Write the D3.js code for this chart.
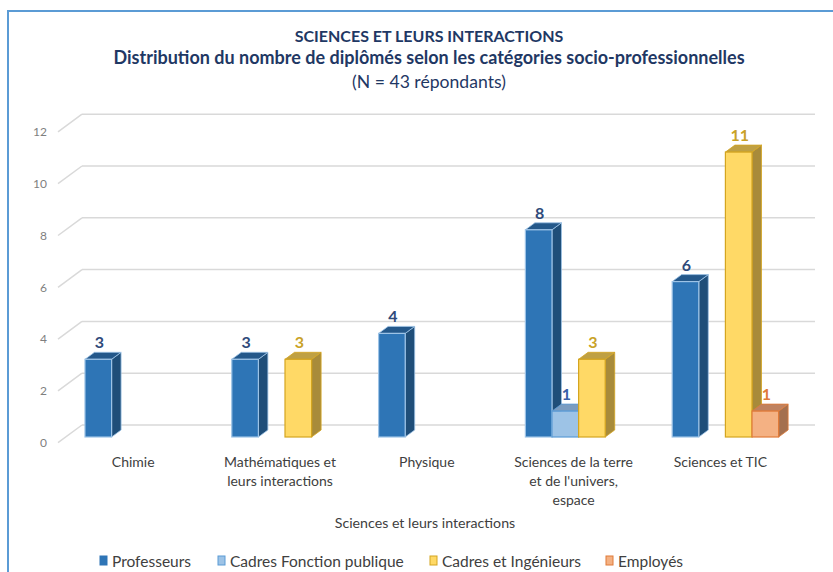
<!DOCTYPE html>
<html>
<head>
<meta charset="utf-8">
<script src="https://cdn.jsdelivr.net/npm/d3@7"></script>
<style>
  body { margin: 0; background: #fff; }
  text { font-family: Lato, "Open Sans", sans-serif; }
</style>
</head>
<body>
<div id="chart"></div>
<script>
// data
const categories = [
  ["Chimie"],
  ["Mathématiques et", "leurs interactions"],
  ["Physique"],
  ["Sciences de la terre", "et de l'univers,", "espace"],
  ["Sciences et TIC"]
]
const seriesNames = ["Professeurs", "Cadres Fonction publique", "Cadres et Ingénieurs", "Employés"]
const professeurs = [3, 3, 4, 8, 6]
const cadresFP = [null, null, null, 1, null]
const cadresIng = [null, 3, null, 3, 11]
const employes = [null, null, null, null, 1]
const yTicks = [0, 2, 4, 6, 8, 10, 12]

const titleLines = [
  "SCIENCES ET LEURS INTERACTIONS",
  "Distribution du nombre de diplômés selon les catégories socio-professionnelles",
  "(N = 43 répondants)"
]
const axisTitle = "Sciences et leurs interactions"

const colors = [
  {front: "#2E75B6", side: "#1F4E79", top: "#24588A", stroke: "#9DC3E6", label: "#2F4A7A"},
  {front: "#9DC3E6", side: "#6E8FB5", top: "#7B9CC0", stroke: "#5B9BD5", label: "#3A62A8"},
  {front: "#FFD966", side: "#A88B3A", top: "#BFA043", stroke: "#D4A520", label: "#C9A227"},
  {front: "#F4B183", side: "#A4704F", top: "#BF8260", stroke: "#E07B39", label: "#E07B39"}
]

const W = 833, H = 572
const svg = d3.select("#chart").append("svg")
  .attr("width", W).attr("height", H)

// chart frame
svg.append("rect")
  .attr("x", 8).attr("y", 11)
  .attr("width", W + 20).attr("height", H + 20)
  .attr("fill", "#fff")
  .attr("stroke", "#5B9BD5").attr("stroke-width", 2)

// titles
const titleY = [42, 64, 88]
const titleSize = [16, 18, 17.6]
titleLines.forEach((t, i) => {
  svg.append("text")
    .attr("x", 429).attr("y", titleY[i])
    .attr("text-anchor", "middle")
    .attr("font-size", titleSize[i])
    .attr("font-weight", i < 2 ? "bold" : "normal")
    .attr("fill", "#1F3864")
    .text(t)
})

// scales
const y = d3.scaleLinear().domain([0, 12]).range([437, 126.2])
const depthWall = {dx: 24, dy: 17.7}
const backShift = 12
const x0 = d3.scaleBand().domain(d3.range(categories.length))
  .range([64.8, 798.8]).paddingInner(0.275).paddingOuter(0.1375)
const x1 = d3.scaleBand().domain(d3.range(seriesNames.length))
  .range([0, x0.bandwidth()])

// back wall gridlines + floor diagonals
const grid = svg.append("g")
yTicks.forEach(v => {
  const yb = y(v) - backShift
  grid.append("line")
    .attr("x1", 82).attr("x2", 815)
    .attr("y1", yb).attr("y2", yb)
    .attr("stroke", "#D9D9D9").attr("stroke-width", 1.5)
  grid.append("line")
    .attr("x1", 82 - depthWall.dx).attr("y1", yb + depthWall.dy)
    .attr("x2", 82).attr("y2", yb)
    .attr("stroke", "#D9D9D9").attr("stroke-width", 1.5)
})

// y axis labels
const yLab = d3.scaleLinear().domain(y.domain())
  .range(y.range().map(r => r - backShift + depthWall.dy))
const yAxis = svg.append("g")
  .attr("transform", "translate(47,0)")
  .call(d3.axisLeft(yLab).tickValues(yTicks).tickSize(0).tickPadding(0))
yAxis.select(".domain").remove()
yAxis.selectAll("text")
  .attr("font-size", 12)
  .attr("fill", "#7F7F7F")
  .style("font-family", 'Lato, "Open Sans", sans-serif')

// bars
const allSeries = [professeurs, cadresFP, cadresIng, employes]
const bd = {dx: 9.5, dy: 7}
const bars = svg.append("g")
categories.forEach((c, i) => {
  allSeries.forEach((s, j) => {
    const v = s[i]
    if (v == null) return
    const col = colors[j]
    const xl = x0(i) + x1(j), w = x1.bandwidth()
    const yt = y(v), yb = y(0)
    const g = bars.append("g")
    g.append("polygon")
      .attr("points", [[xl + w, yt], [xl + w + bd.dx, yt - bd.dy], [xl + w + bd.dx, yb - bd.dy], [xl + w, yb]].join(" "))
      .attr("fill", col.side).attr("stroke", col.stroke).attr("stroke-width", 0.8)
    g.append("polygon")
      .attr("points", [[xl, yt], [xl + bd.dx, yt - bd.dy], [xl + w + bd.dx, yt - bd.dy], [xl + w, yt]].join(" "))
      .attr("fill", col.top).attr("stroke", col.stroke).attr("stroke-width", 0.8)
    g.append("rect")
      .attr("x", xl).attr("y", yt)
      .attr("width", w).attr("height", yb - yt)
      .attr("fill", col.front).attr("stroke", col.stroke).attr("stroke-width", 1.2)
    g.append("text")
      .attr("x", xl + w / 2 + 1).attr("y", yt - 11)
      .attr("text-anchor", "middle")
      .attr("font-size", 16).attr("font-weight", "bold")
      .attr("fill", col.label)
      .text(v)
  })
})

// category labels
categories.forEach((lines, i) => {
  const cx = x0(i) + x0.bandwidth() / 2 - 5
  lines.forEach((l, k) => {
    svg.append("text")
      .attr("x", cx).attr("y", 467 + k * 19)
      .attr("text-anchor", "middle")
      .attr("font-size", 14)
      .attr("fill", "#404040")
      .text(l)
  })
})

// axis title
svg.append("text")
  .attr("x", 425).attr("y", 528)
  .attr("text-anchor", "middle")
  .attr("font-size", 14.2)
  .attr("fill", "#404040")
  .text(axisTitle)

// legend
const legendX = [100, 218, 430, 606]
const legend = svg.append("g")
seriesNames.forEach((n, j) => {
  legend.append("rect")
    .attr("x", legendX[j]).attr("y", 556)
    .attr("width", 7).attr("height", 9)
    .attr("fill", colors[j].front)
    .attr("stroke", j === 0 ? colors[j].front : colors[j].stroke)
    .attr("stroke-width", 1)
  legend.append("text")
    .attr("x", legendX[j] + 12).attr("y", 566.5)
    .attr("font-size", 15.5)
    .attr("fill", "#404040")
    .text(n)
})
</script>
</body>
</html>
